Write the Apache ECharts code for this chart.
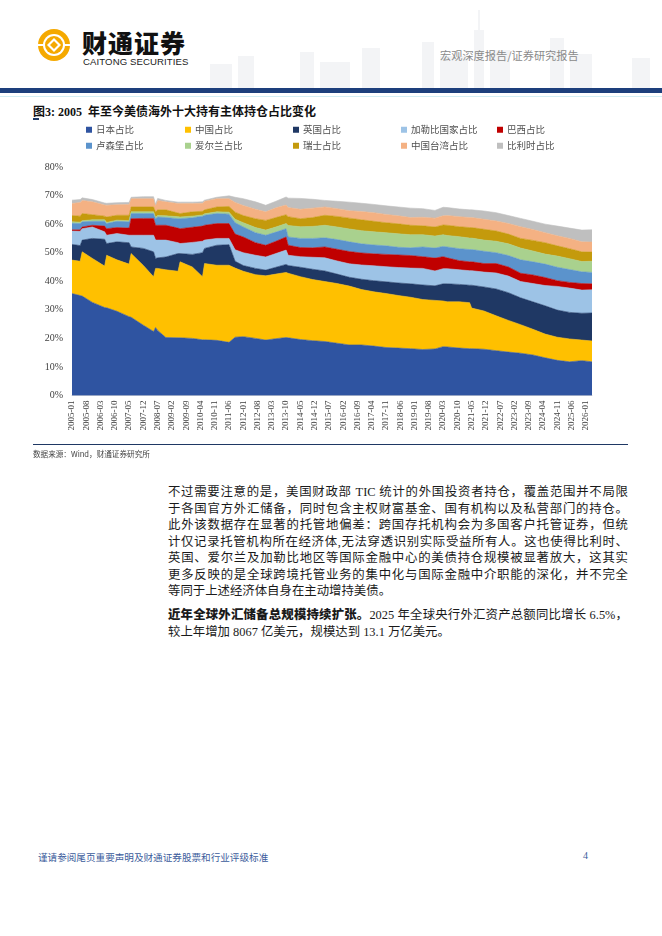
<!DOCTYPE html>
<html lang="zh-CN">
<head>
<meta charset="utf-8">
<title>图3：2005 年至今美债海外十大持有主体持仓占比变化</title>
<script src="https://cdn.jsdelivr.net/npm/echarts@6/dist/echarts.min.js"></script>
<style>
    html, body {
        margin: 0;
        padding: 0;
        background: #fff;
    }
    body {
        position: relative;
        width: 662px;
        height: 936px;
        overflow: hidden;
        font-family: "Liberation Serif", "Noto Sans CJK SC", serif;
        color: #222;
    }
    .abs {
        position: absolute;
    }
    .brand {
        left: 82px;
        top: 27px;
        font-family: "Noto Sans CJK SC", sans-serif;
        font-weight: 900;
        font-size: 25px;
        letter-spacing: 1px;
        color: #111;
        line-height: 30px;
    }
    .brand-en {
        left: 83px;
        top: 56px;
        font-family: "Liberation Sans", Arial, sans-serif;
        font-size: 9.6px;
        color: #222;
        letter-spacing: 0.1px;
    }
    .report-type {
        left: 440px;
        top: 47px;
        font-family: "Noto Sans CJK SC", sans-serif;
        font-size: 11.2px;
        color: #8a8a8a;
    }
    .bar {
        left: 0;
        top: 88px;
        width: 662px;
        height: 5px;
        background: #1d3f7c;
    }
    .bar-light {
        left: 0;
        top: 96px;
        width: 662px;
        height: 1px;
        background: #d3eef4;
    }
    .fig-title {
        left: 33px;
        top: 102px;
        font-family: "Liberation Serif", "Noto Sans CJK SC", serif;
        font-weight: bold;
        font-size: 12px;
        color: #111;
        white-space: nowrap;
    }
    .fig-title-mark {
        left: 33px;
        top: 118px;
        width: 6px;
        height: 1.5px;
        background: #1f3864;
    }
    .fig-bottom {
        left: 33px;
        top: 444px;
        width: 595px;
        height: 1.4px;
        background: #1f3864;
    }
    .source {
        left: 33px;
        top: 448px;
        font-family: "Noto Sans CJK SC", sans-serif;
        font-size: 7.6px;
        color: #444;
    }
    .para {
        left: 168px;
        width: 460px;
        font-size: 12.4px;
        line-height: 16.5px;
        color: #1a1a1a;
    }
    .para div {
        white-space: nowrap;
        text-align: justify;
        text-align-last: justify;
    }
    .para div.last {
        text-align-last: left;
    }
    .para b {
        font-family: "Noto Sans CJK SC", sans-serif;
        font-weight: 900;
    }
    .footer {
        left: 38px;
        top: 850px;
        font-family: "Noto Sans CJK SC", sans-serif;
        font-size: 9.6px;
        color: #3b5b9b;
    }
    .page-no {
        left: 583px;
        top: 850px;
        font-size: 10px;
        color: #3b5b9b;
    }
    #chart {
        left: 0;
        top: 120px;
        width: 662px;
        height: 330px;
    }
</style>
</head>
<body>

<!-- 页眉 -->
<svg class="abs" style="left:190px;top:8px" width="472" height="80">
    <g fill="#f3f4f6">
        <rect x="20" y="56" width="22" height="24"/>
        <rect x="48" y="48" width="16" height="32"/>
        <rect x="110" y="44" width="14" height="36"/>
        <rect x="130" y="54" width="30" height="26"/>
        <rect x="172" y="40" width="18" height="40"/>
        <rect x="232" y="34" width="12" height="46"/>
        <rect x="250" y="48" width="28" height="32"/>
        <rect x="284" y="22" width="10" height="58"/>
        <rect x="288" y="2" width="2" height="20"/>
        <rect x="300" y="42" width="20" height="38"/>
        <rect x="360" y="30" width="14" height="50"/>
        <rect x="380" y="46" width="22" height="34"/>
        <rect x="442" y="50" width="18" height="30"/>
    </g>
</svg>
<svg class="abs" style="left:36px;top:27px" width="36" height="36" viewBox="0 0 36 36">
    <circle cx="18" cy="18" r="16" fill="#f5a900"/>
    <circle cx="18" cy="18" r="11" fill="#fff"/>
    <circle cx="18" cy="18" r="9" fill="#f5a900"/>
    <path d="M18 11 L25 18 L18 25 L11 18 Z" fill="#fff"/>
    <path d="M18 14 L22 18 L18 22 L14 18 Z" fill="#f5a900"/>
    <path d="M2 18 H8 M28 18 H34" stroke="#fff" stroke-width="2"/>
</svg>
<div class="abs brand">财通证券</div>
<div class="abs brand-en">CAITONG SECURITIES</div>
<div class="abs report-type">宏观深度报告/证券研究报告</div>
<div class="abs bar"></div>
<div class="abs bar-light"></div>

<!-- 图表 -->
<div class="abs fig-title">图3: 2005&nbsp; 年至今美债海外十大持有主体持仓占比变化</div>
<div class="abs fig-title-mark"></div>
<div id="chart" class="abs"></div>
<div class="abs fig-bottom"></div>
<div class="abs source">数据来源：Wind，财通证券研究所</div>

<!-- 正文 -->
<div class="abs para" style="top:484px">
    <div>不过需要注意的是，美国财政部 TIC 统计的外国投资者持仓，覆盖范围并不局限</div>
    <div>于各国官方外汇储备，同时包含主权财富基金、国有机构以及私营部门的持仓。</div>
    <div>此外该数据存在显著的托管地偏差：跨国存托机构会为多国客户托管证券，但统</div>
    <div>计仅记录托管机构所在经济体,无法穿透识别实际受益所有人。这也使得比利时、</div>
    <div>英国、爱尔兰及加勒比地区等国际金融中心的美债持仓规模被显著放大，这其实</div>
    <div>更多反映的是全球跨境托管业务的集中化与国际金融中介职能的深化，并不完全</div>
    <div class="last">等同于上述经济体自身在主动增持美债。</div>
</div>
<div class="abs para" style="top:606px">
    <div><b>近年全球外汇储备总规模持续扩张。</b>2025 年全球央行外汇资产总额同比增长 6.5%，</div>
    <div class="last">较上年增加 8067 亿美元，规模达到 13.1 万亿美元。</div>
</div>

<!-- 页脚 -->
<div class="abs footer">谨请参阅尾页重要声明及财通证券股票和行业评级标准</div>
<div class="abs page-no">4</div>

<script>
'use strict';

// 横轴范围：2005-01 ~ 2026-04，按月
var FIRST_YEAR = 2005;
var LAST_YEAR = 2026;
var LAST_MONTH = 4;
// 每 7 个月标一次
var LABEL_EVERY = 7;

// 读图取样的月份（含每年 6 月 TIC 年度修订前后的跳变点）
var sampleMonths = [
    '2005-01', '2005-05', '2005-06', '2005-11', '2006-05', '2006-06', '2006-11', '2007-05', '2007-06', '2007-12',
    '2008-05', '2008-06', '2008-07', '2008-11', '2009-05', '2009-06', '2009-12', '2010-05', '2010-06', '2010-12',
    '2011-06', '2011-09', '2012-01', '2012-07', '2012-12', '2013-05', '2013-10', '2013-11', '2014-05', '2014-11',
    '2015-05', '2015-11', '2016-05', '2016-11', '2017-05', '2017-11', '2018-05', '2018-11', '2019-05', '2019-11',
    '2020-03', '2020-05', '2020-11', '2021-04', '2021-05', '2021-11', '2022-05', '2022-11', '2023-05', '2023-11',
    '2024-05', '2024-11', '2025-05', '2025-11', '2026-04'
];

// 各经济体持仓占比（%）
var japanShare = [
    35.7, 35.0, 34.8, 32.6, 30.8, 30.7, 29.5, 27.6, 27.4, 24.6,
    22.4, 23.8, 22.8, 20.3, 20.2, 20.2, 20.0, 19.5, 19.5, 19.3,
    18.6, 20.4, 20.6, 20.0, 19.4, 19.9, 20.3, 20.2, 19.6, 19.2,
    18.9, 18.3, 17.7, 17.7, 17.3, 16.8, 16.6, 16.4, 16.1, 16.3,
    17.1, 17.0, 16.6, 16.4, 16.4, 16.2, 15.7, 15.2, 14.8, 14.2,
    13.2, 12.3, 11.8, 12.2, 11.8
];
var chinaShare = [
    11.7, 12.0, 15.5, 15.4, 14.5, 18.4, 18.0, 18.4, 22.3, 20.9,
    19.2, 20.7, 21.7, 23.7, 23.3, 26.6, 25.0, 22.1, 26.7, 26.3,
    27.0, 24.2, 22.9, 22.3, 22.5, 22.6, 22.8, 22.6, 22.0, 21.4,
    21.0, 20.9, 20.6, 19.4, 19.0, 18.9, 18.4, 18.0, 17.5, 17.0,
    16.0, 15.8, 16.2, 16.1, 14.2, 13.4, 12.2, 11.1, 10.0, 9.0,
    8.3, 8.1, 8.0, 7.2, 7.3
];
var ukShare = [
    5.5, 5.5, 4.1, 7.0, 9.4, 4.1, 6.3, 7.5, 2.3, 6.0,
    8.7, 3.5, 3.7, 4.5, 6.2, 2.9, 4.4, 8.4, 5.3, 7.0,
    7.2, 2.4, 2.0, 2.2, 2.0, 2.4, 2.8, 2.7, 3.3, 3.6,
    3.7, 3.3, 3.1, 3.6, 3.9, 4.1, 4.4, 4.7, 5.1, 5.1,
    6.0, 6.3, 6.1, 6.1, 8.0, 8.4, 9.4, 9.7, 9.4, 9.6,
    9.9, 9.5, 9.3, 9.4, 9.8
];
var caribbeanShare = [
    4.7, 5.0, 4.0, 4.0, 2.6, 2.9, 2.9, 2.6, 4.1, 4.6,
    5.8, 6.4, 6.2, 5.9, 3.8, 3.5, 4.2, 4.0, 2.9, 2.4,
    2.2, 4.0, 4.5, 4.6, 4.6, 4.8, 5.0, 3.6, 3.7, 4.2,
    4.6, 4.6, 4.7, 5.0, 5.2, 5.3, 5.4, 5.5, 5.8, 5.2,
    5.3, 5.3, 5.1, 5.1, 5.1, 5.2, 5.6, 5.8, 5.7, 6.4,
    7.1, 8.3, 8.5, 8.1, 8.1
];
var brazilShare = [
    0.4, 0.5, 0.6, 0.6, 2.0, 2.3, 2.1, 2.5, 5.8, 5.9,
    5.9, 5.2, 5.2, 5.2, 5.1, 5.2, 5.3, 5.3, 5.2, 5.2,
    5.2, 5.5, 5.5, 4.4, 4.1, 4.3, 4.6, 3.5, 3.2, 3.3,
    3.8, 4.1, 4.3, 4.2, 4.2, 4.3, 4.4, 4.4, 4.1, 4.5,
    4.2, 3.8, 3.2, 3.1, 3.1, 3.0, 3.3, 3.2, 2.9, 3.0,
    2.8, 2.0, 2.0, 2.3, 2.1
];
var luxembourgShare = [
    2.3, 2.2, 1.8, 1.4, 1.7, 1.8, 2.2, 2.2, 1.8, 1.7,
    1.7, 2.3, 2.9, 2.7, 3.3, 3.5, 3.3, 3.5, 3.5, 3.5,
    3.3, 4.0, 3.5, 3.5, 3.5, 3.2, 2.9, 2.9, 3.2, 3.3,
    3.2, 3.4, 3.4, 3.2, 3.1, 3.0, 2.7, 2.7, 3.4, 3.5,
    3.6, 3.8, 4.2, 4.3, 4.3, 4.3, 3.8, 4.0, 4.7, 4.6,
    4.7, 4.7, 4.5, 4.1, 4.0
];
var irelandShare = [
    0.5, 0.5, 0.4, 0.5, 0.5, 0.4, 0.4, 0.4, 0.6, 0.6,
    0.6, 0.5, 0.5, 0.6, 0.7, 0.6, 0.6, 0.4, 0.5, 0.6,
    0.7, 1.2, 1.5, 1.8, 1.8, 1.8, 1.8, 4.0, 4.1, 4.2,
    4.4, 4.4, 4.5, 4.6, 4.6, 4.6, 4.7, 4.6, 4.3, 4.2,
    4.1, 4.0, 4.2, 4.0, 4.0, 3.9, 4.0, 4.1, 4.1, 3.8,
    3.5, 3.9, 3.8, 3.6, 3.9
];
var swissShare = [
    2.2, 2.1, 2.5, 1.8, 1.3, 1.9, 1.7, 1.9, 1.7, 1.7,
    1.7, 1.9, 2.0, 2.1, 1.3, 1.2, 1.5, 1.3, 1.4, 1.7,
    2.0, 2.5, 2.5, 3.1, 3.4, 3.3, 3.1, 3.1, 2.8, 3.1,
    3.5, 3.7, 3.8, 3.8, 3.7, 3.5, 3.5, 3.3, 3.1, 3.2,
    3.4, 3.6, 3.5, 3.7, 3.7, 3.8, 3.6, 3.4, 3.4, 3.7,
    4.0, 3.6, 3.5, 3.4, 3.2
];
var taiwanShare = [
    4.2, 4.8, 4.6, 4.5, 3.9, 4.1, 3.7, 3.8, 2.9, 2.9,
    2.9, 2.1, 3.3, 2.8, 3.3, 3.5, 2.9, 2.8, 3.0, 2.9,
    2.7, 3.4, 3.5, 3.3, 3.0, 3.4, 3.4, 3.2, 3.3, 3.3,
    2.9, 2.7, 2.6, 2.9, 3.0, 2.9, 2.8, 2.7, 3.0, 3.1,
    3.2, 3.4, 3.5, 3.5, 3.5, 3.5, 3.5, 3.7, 4.1, 3.8,
    3.5, 3.5, 3.6, 3.5, 3.5
];
var belgiumShare = [
    1.2, 1.0, 0.9, 0.8, 0.7, 0.7, 0.7, 0.7, 0.5, 0.7,
    0.7, 0.5, 0.7, 0.5, 0.5, 0.5, 0.5, 0.5, 0.4, 0.5,
    1.0, 1.8, 2.4, 2.6, 2.3, 2.3, 2.8, 3.3, 3.8, 3.1,
    2.3, 2.6, 3.0, 2.9, 2.9, 3.0, 3.1, 3.3, 3.0, 2.7,
    3.0, 2.8, 2.7, 2.7, 2.7, 2.9, 2.9, 2.8, 2.9, 2.9,
    3.0, 3.4, 3.6, 4.1, 4.3
];

var seriesNames = [
    '日本占比', '中国占比', '英国占比', '加勒比国家占比', '巴西占比',
    '卢森堡占比', '爱尔兰占比', '瑞士占比', '中国台湾占比', '比利时占比'
];
var seriesValues = [
    japanShare, chinaShare, ukShare, caribbeanShare, brazilShare,
    luxembourgShare, irelandShare, swissShare, taiwanShare, belgiumShare
];
var seriesColors = [
    '#2f54a1', '#ffc000', '#1f3864', '#9dc3e6', '#c00000',
    '#5b93cc', '#a9d18e', '#c49a0c', '#f4b183', '#bfbfbf'
];

var Y_MIN = 0;
var Y_MAX = 80;
var Y_STEP = 10;

var SERIF = '"Liberation Serif", "Times New Roman", serif';
var CJK = '"Noto Sans CJK SC", sans-serif';

function buildMonths() {
    var list = [];
    var y, m, last;

    for (y = FIRST_YEAR; y <= LAST_YEAR; y++) {
        last = y === LAST_YEAR ? LAST_MONTH : 12;
        for (m = 1; m <= last; m++) {
            list.push(y + '-' + (m < 10 ? '0' + m : m));
        }
    }
    return list;
}

// 图例两行五列
function buildLegends() {
    var colLeft = [86, 185, 293, 401, 497];
    var rowTop = [5, 21];

    return seriesNames.map(function (name, i) {
        return {
            data: [name],
            left: colLeft[i % 5],
            top: rowTop[Math.floor(i / 5)],
            padding: 0,
            itemGap: 0,
            itemWidth: 6,
            itemHeight: 6,
            icon: 'rect',
            selectedMode: false,
            textStyle: {
                fontFamily: CJK,
                fontSize: 9.5,
                color: '#505050',
                padding: [0, 0, 0, -1]
            }
        };
    });
}

function buildSeries() {
    return seriesNames.map(function (name, i) {
        var color = seriesColors[i];

        return {
            name: name,
            type: 'line',
            stack: 'total',
            symbol: 'none',
            showSymbol: false,
            data: sampleMonths.map(function (month, k) {
                return [month, seriesValues[i][k]];
            }),
            itemStyle: {color: color},
            lineStyle: {color: color, width: 0.6},
            areaStyle: {color: color, opacity: 1},
            emphasis: {disabled: true}
        };
    });
}

var chart = echarts.init(document.getElementById('chart'), null, {renderer: 'canvas'});

chart.setOption({
    animation: false,
    textStyle: {fontFamily: SERIF},
    legend: buildLegends(),
    tooltip: {show: false},
    grid: {
        left: 72,
        right: 70,
        top: 47,
        bottom: 54.5,
        containLabel: false,
        outerBoundsMode: 'none'
    },
    xAxis: {
        type: 'category',
        data: buildMonths(),
        boundaryGap: false,
        axisLine: {lineStyle: {color: '#d9d9d9', width: 1}},
        axisTick: {show: false},
        splitLine: {show: false},
        axisLabel: {
            rotate: 90,
            interval: function (index) {
                return index % LABEL_EVERY === 0;
            },
            margin: 5,
            fontFamily: SERIF,
            fontSize: 9,
            color: '#404040'
        }
    },
    yAxis: {
        type: 'value',
        min: Y_MIN,
        max: Y_MAX,
        interval: Y_STEP,
        axisLine: {show: false},
        axisTick: {show: false},
        splitLine: {show: false},
        axisLabel: {
            formatter: '{value}%',
            margin: 9,
            fontFamily: SERIF,
            fontSize: 10,
            color: '#404040'
        }
    },
    series: buildSeries()
});
</script>
</body>
</html>
